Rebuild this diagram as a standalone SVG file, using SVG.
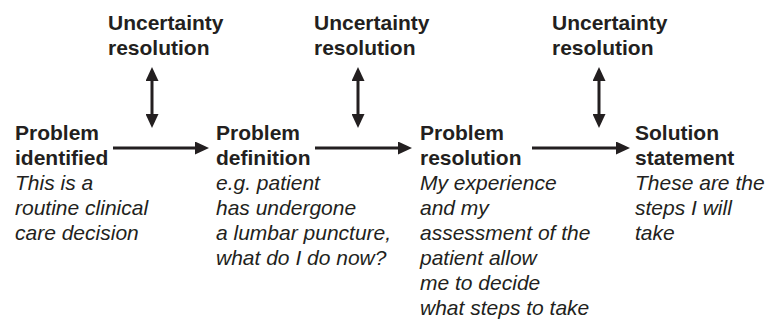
<svg xmlns="http://www.w3.org/2000/svg" width="776" height="320" viewBox="0 0 776 320">
<defs>
<style>
text{font-family:"Liberation Sans",Arial,sans-serif;font-size:21px;fill:#231f20}
.b{font-weight:bold}
.i{font-style:italic}
.c line{stroke:#231f20;stroke-width:3}
</style>
<marker id="ah" viewBox="0 0 14 13" markerUnits="userSpaceOnUse" markerWidth="14" markerHeight="13" refX="2" refY="6.5" orient="auto-start-reverse">
<path d="M0,0 L14,6.5 L0,13 z" fill="#231f20"/>
</marker>
</defs>
<rect width="776" height="320" fill="#fff"/>
<g id="u1"><text class="b" x="108" y="30">Uncertainty</text><text class="b" x="108" y="55">resolution</text></g>
<g id="u2"><text class="b" x="314" y="30">Uncertainty</text><text class="b" x="314" y="55">resolution</text></g>
<g id="u3"><text class="b" x="552" y="30">Uncertainty</text><text class="b" x="552" y="55">resolution</text></g>
<g id="n1">
<text class="b" x="15" y="140">Problem</text><text class="b" x="15" y="165">identified</text>
<text class="i" x="15" y="190">This is a</text><text class="i" x="15" y="215">routine clinical</text><text class="i" x="15" y="240">care decision</text>
</g>
<g id="n2">
<text class="b" x="216" y="140">Problem</text><text class="b" x="216" y="165">definition</text>
<text class="i" x="216" y="190">e.g. patient</text><text class="i" x="216" y="215">has undergone</text><text class="i" x="216" y="240">a lumbar puncture,</text><text class="i" x="216" y="265">what do I do now?</text>
</g>
<g id="n3">
<text class="b" x="420" y="140">Problem</text><text class="b" x="420" y="165">resolution</text>
<text class="i" x="420" y="190">My experience</text><text class="i" x="420" y="215">and my</text><text class="i" x="420" y="240">assessment of the</text><text class="i" x="420" y="265">patient allow</text><text class="i" x="420" y="290">me to decide</text><text class="i" x="420" y="315">what steps to take</text>
</g>
<g id="n4">
<text class="b" x="635" y="140">Solution</text><text class="b" x="635" y="165">statement</text>
<text class="i" x="635" y="190">These are the</text><text class="i" x="635" y="215">steps I will</text><text class="i" x="635" y="240">take</text>
</g>
<g class="c" id="connectors">
<line x1="152" y1="79" x2="152" y2="116" marker-start="url(#ah)" marker-end="url(#ah)"/>
<line x1="358" y1="79" x2="358" y2="116" marker-start="url(#ah)" marker-end="url(#ah)"/>
<line x1="599" y1="79" x2="599" y2="116" marker-start="url(#ah)" marker-end="url(#ah)"/>
<line x1="113" y1="148" x2="197" y2="148" marker-end="url(#ah)"/>
<line x1="315" y1="148" x2="400" y2="148" marker-end="url(#ah)"/>
<line x1="532" y1="148" x2="618" y2="148" marker-end="url(#ah)"/>
</g>
</svg>
